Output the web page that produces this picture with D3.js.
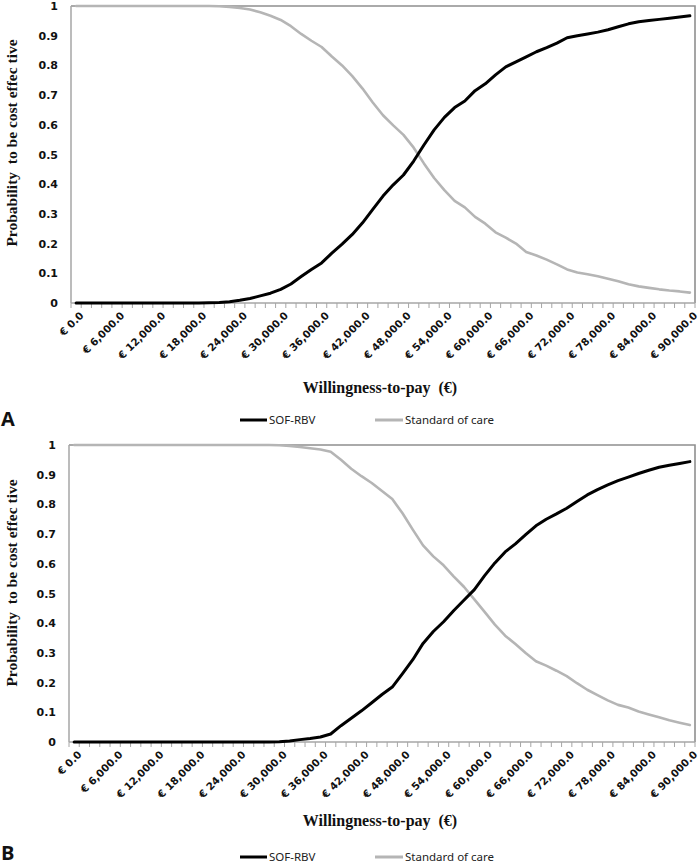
<!DOCTYPE html>
<html>
<head>
<meta charset="utf-8">
<script src="https://cdn.jsdelivr.net/npm/d3@7"></script>
<style>
  html, body { margin: 0; padding: 0; background: #fff; }
  svg { display: block; }
  .pre { white-space: pre; }
</style>
</head>
<body>
<svg id="chart" width="699" height="865"></svg>
<script>
// ---------- DATA ----------
const wtpCategories = [0,1500,3000,4500,6000,7500,9000,10500,12000,13500,15000,16500,18000,19500,21000,22500,24000,25500,27000,28500,30000,31500,33000,34500,36000,37500,39000,40500,42000,43500,45000,46500,48000,49500,51000,52500,54000,55500,57000,58500,60000,61500,63000,64500,66000,67500,69000,70500,72000,73500,75000,76500,78000,79500,81000,82500,84000,85500,87000,88500,90000];

const xTickLabels = ["€ 0.0","€ 6,000.0","€ 12,000.0","€ 18,000.0","€ 24,000.0","€ 30,000.0","€ 36,000.0","€ 42,000.0","€ 48,000.0","€ 54,000.0","€ 60,000.0","€ 66,000.0","€ 72,000.0","€ 78,000.0","€ 84,000.0","€ 90,000.0"];
const yTickValues = [0,0.1,0.2,0.3,0.4,0.5,0.6,0.7,0.8,0.9,1];
const yTickLabels = ["0","0.1","0.2","0.3","0.4","0.5","0.6","0.7","0.8","0.9","1"];

const seriesNames = ["SOF-RBV","Standard of care"];

// Panel A
const sofRbvA = [0,0,0,0,0,0,0,0,0,0,0,0,0,0.001,0.002,0.004,0.009,0.015,0.024,0.033,0.046,0.064,0.089,0.113,0.135,0.168,0.198,0.231,0.270,0.315,0.360,0.398,0.431,0.478,0.532,0.583,0.625,0.658,0.680,0.715,0.738,0.768,0.795,0.812,0.829,0.846,0.860,0.875,0.893,0.900,0.906,0.912,0.920,0.930,0.940,0.947,0.951,0.955,0.959,0.963,0.967];
const socA = [1,1,1,1,1,1,1,1,1,1,1,1,1,1,0.999,0.997,0.993,0.988,0.979,0.967,0.953,0.932,0.906,0.883,0.862,0.830,0.800,0.764,0.722,0.675,0.632,0.598,0.566,0.523,0.470,0.421,0.380,0.344,0.322,0.290,0.267,0.238,0.220,0.200,0.172,0.160,0.146,0.130,0.113,0.103,0.097,0.090,0.082,0.073,0.063,0.056,0.051,0.046,0.042,0.039,0.035];

// Panel B
const sofRbvB = [0,0,0,0,0,0,0,0,0,0,0,0,0,0,0,0,0,0,0,0,0.001,0.003,0.008,0.012,0.017,0.027,0.055,0.080,0.105,0.132,0.160,0.185,0.230,0.277,0.332,0.372,0.405,0.443,0.478,0.513,0.560,0.603,0.640,0.667,0.698,0.728,0.750,0.768,0.787,0.810,0.832,0.850,0.866,0.880,0.892,0.904,0.915,0.925,0.932,0.938,0.944];
const socB = [1,1,1,1,1,1,1,1,1,1,1,1,1,1,1,1,1,1,1,1,0.999,0.997,0.993,0.989,0.985,0.977,0.950,0.920,0.895,0.872,0.845,0.818,0.770,0.715,0.662,0.625,0.595,0.557,0.522,0.480,0.438,0.395,0.358,0.330,0.300,0.272,0.257,0.240,0.222,0.198,0.176,0.158,0.140,0.125,0.116,0.103,0.093,0.083,0.073,0.065,0.057];

// ---------- DRAW ----------
const svg = d3.select("#chart");
const colors = ["#000000", "#b5b5b5"];

function drawPanel(cfg) {
  const g = svg.append("g");
  const x = d3.scaleBand().domain(wtpCategories).range([cfg.left, cfg.right]).paddingInner(0).paddingOuter(0);
  const y = d3.scaleLinear().domain([0, 1]).range([cfg.bottom, cfg.top]);
  const cx = v => x(v) + x.bandwidth() / 2;

  // top & right border
  g.append("path")
    .attr("d", `M${cfg.left},${y(1)}H${cfg.right}V${y(0)}`)
    .attr("fill", "none").attr("stroke", "#8f8f8f").attr("stroke-width", 1.6);

  // left axis line
  g.append("line").attr("x1", cfg.left).attr("x2", cfg.left).attr("y1", y(0)).attr("y2", y(1))
    .attr("stroke", "#a6a6a6").attr("stroke-width", 1.5);

  // y tick labels
  const yAxis = d3.axisLeft(y).tickValues(yTickValues)
    .tickFormat((d, i) => yTickLabels[i]).tickSize(0).tickPadding(0);
  const ya = g.append("g").attr("transform", `translate(${cfg.yLabelRight},0)`).call(yAxis);
  ya.select(".domain").remove();
  ya.selectAll("text")
    .attr("font-family", "'DejaVu Sans', Verdana, sans-serif")
    .attr("font-weight", "bold").attr("font-size", 11).attr("fill", "#111");

  // bottom axis line + ticks at category boundaries
  g.append("line").attr("x1", cfg.left).attr("x2", cfg.right).attr("y1", y(0)).attr("y2", y(0))
    .attr("stroke", "#a6a6a6").attr("stroke-width", 1.5);
  const boundaries = wtpCategories.map(v => x(v)).concat([x.range()[1]]);
  g.selectAll(".xtick").data(boundaries).enter().append("line")
    .attr("x1", d => d).attr("x2", d => d)
    .attr("y1", y(0)).attr("y2", y(0) + 5)
    .attr("stroke", "#a6a6a6").attr("stroke-width", 1);

  // x tick labels (every 4th category)
  const labelled = wtpCategories.filter((v, i) => i % 4 === 0);
  g.selectAll(".xlab").data(labelled).enter().append("text")
    .attr("transform", (d) => `translate(${cx(d) + 3},${y(0) + 8}) rotate(-45)`)
    .attr("text-anchor", "end")
    .attr("dy", "0.7em")
    .attr("font-family", "'DejaVu Sans', Verdana, sans-serif")
    .attr("font-weight", "bold").attr("font-size", 10.3).attr("fill", "#111")
    .text((d, i) => xTickLabels[i]);

  // lines
  const line = d3.line().x((d, i) => cx(wtpCategories[i])).y(d => y(d));
  const series = [cfg.sof, cfg.soc];
  [1, 0].forEach(k => {
    g.append("path").datum(series[k]).attr("d", line)
      .attr("fill", "none").attr("stroke", colors[k])
      .attr("stroke-width", k === 0 ? 3 : 2.6)
      .attr("stroke-linejoin", "round").attr("stroke-linecap", "round");
  });

  // y title
  g.append("text").attr("class", "pre")
    .attr("transform", `translate(17,${cfg.yTitleCenter}) rotate(-90)`)
    .attr("text-anchor", "middle")
    .attr("font-family", "'Liberation Serif', 'Times New Roman', serif")
    .attr("font-weight", "bold").attr("font-size", 15.5).attr("fill", "#111")
    .text("Probability  to be cost effec tive");

  // x title
  g.append("text").attr("class", "pre")
    .attr("x", 380).attr("y", cfg.xTitleY)
    .attr("text-anchor", "middle")
    .attr("font-family", "'Liberation Serif', 'Times New Roman', serif")
    .attr("font-weight", "bold").attr("font-size", 16).attr("fill", "#111")
    .text("Willingness-to-pay  (€)");

  // legend
  const legX = [240, 375];
  const legW = [27, 28];
  seriesNames.forEach((name, k) => {
    g.append("line").attr("x1", legX[k]).attr("x2", legX[k] + legW[k])
      .attr("y1", cfg.legendY).attr("y2", cfg.legendY)
      .attr("stroke", colors[k]).attr("stroke-width", 3);
    g.append("text").attr("x", legX[k] + legW[k] + 2).attr("y", cfg.legendY + 4)
      .attr("font-family", "'Noto Sans', 'Open Sans', sans-serif")
      .attr("font-size", 11.5).attr("fill", "#222")
      .text(name);
  });

  // panel letter
  g.append("text").attr("x", 1).attr("y", cfg.letterY)
    .attr("font-family", "'Open Sans', 'DejaVu Sans', sans-serif")
    .attr("font-weight", "bold").attr("font-size", 20).attr("fill", "#111")
    .text(cfg.letter);
}

drawPanel({ left: 71, right: 695, top: 6, bottom: 303, yLabelRight: 58,
  sof: sofRbvA, soc: socA, yTitleCenter: 143, xTitleY: 393, legendY: 420, letterY: 426, letter: "A" });
drawPanel({ left: 69, right: 695, top: 445, bottom: 742, yLabelRight: 56,
  sof: sofRbvB, soc: socB, yTitleCenter: 583, xTitleY: 826, legendY: 857, letterY: 860, letter: "B" });
</script>
</body>
</html>
